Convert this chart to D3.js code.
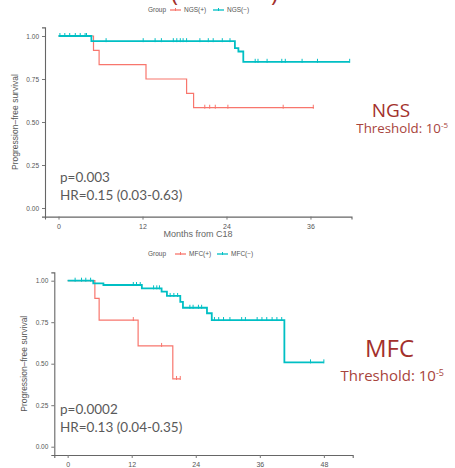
<!DOCTYPE html>
<html>
<head>
<meta charset="utf-8">
<script src="https://cdn.jsdelivr.net/npm/d3@7"></script>
<style>
  body { margin: 0; background: #fff; }
  svg { display: block; }
  .tick text { font-family: "Liberation Sans", Arial, sans-serif; fill: #555; }
</style>
</head>
<body>
<div id="chart"></div>
<script>
// NGS panel
const ngsPosTimes = [0, 5.0, 5.8, 12.5, 18.3, 19.3, 36.5];
const ngsPosSurv = [1, 0.917, 0.833, 0.75, 0.667, 0.583, 0.583];
const ngsPosCensor = [20.9, 21.6, 22.4, 24.2, 32.1, 36.4];
const ngsNegTimes = [0, 4.7, 25.2, 25.7, 26.4, 41.6];
const ngsNegSurv = [1, 0.97, 0.93, 0.91, 0.85, 0.85];
const ngsNegCensor = [0.2, 0.9, 1.6, 2.4, 3.1, 3.8, 4.0, 6.8, 12.1, 13.8, 14.7, 16.4, 16.9, 17.4, 17.8, 18.3,
  20.2, 21.4, 22.1, 23.4, 24.5, 28.1, 28.5, 29.8, 31.9, 32.4, 34.8, 37.0, 41.6];

// MFC panel
const mfcPosTimes = [0, 5.1, 5.9, 13.2, 19.7, 21.1];
const mfcPosSurv = [1, 0.894, 0.763, 0.607, 0.408, 0.408];
const mfcPosCensor = [12.3, 17.6, 20.4, 21.1];
const mfcNegTimes = [0, 4.8, 6.7, 13.9, 17.6, 18.6, 21.1, 21.6, 26.1, 27.0, 40.6, 48.0];
const mfcNegSurv = [1, 0.984, 0.974, 0.954, 0.934, 0.908, 0.873, 0.837, 0.804, 0.763, 0.508, 0.508];
const mfcNegCensor = [1.4, 2.6, 3.4, 4.3, 12.3, 12.9, 13.6, 16.1, 16.7, 17.2, 19.2, 19.9, 20.6,
  22.9, 23.5, 24.5, 25.1, 27.5, 28.3, 29.2, 30.4, 32.6, 33.3, 35.5, 36.4, 37.3, 38.3, 39.2, 40.1, 45.5, 48.0];

const yTicks = [0, 0.25, 0.5, 0.75, 1];
const ngsXTicks = [0, 12, 24, 36];
const mfcXTicks = [0, 12, 24, 36, 48];

const posColor = '#F8766D';
const negColor = '#00BFC4';
const redText = '#a3302c';

const width = 455, height = 468;
const svg = d3.select('#chart').append('svg')
  .attr('width', width).attr('height', height);

// bits of the slide title cut off at the top
svg.append('text').attr('x', 171).attr('y', 1).attr('fill', redText)
  .style('font-family', 'Open Sans').style('font-size', '24px').text('(');
svg.append('text').attr('x', 271).attr('y', 1).attr('fill', redText)
  .style('font-family', 'Open Sans').style('font-size', '24px').text(')');

function panel(cfg) {
  const x = d3.scaleLinear().domain(cfg.xDomain).range(cfg.xRange);
  const y = d3.scaleLinear().domain([-0.05, 1.05]).range(cfg.yRange);
  const g = svg.append('g');

  const xAxis = d3.axisBottom(x).tickValues(cfg.xTicks).tickSizeOuter(0).tickSize(3);
  const yAxis = d3.axisLeft(y).tickValues(yTicks).tickFormat(d3.format('.2f')).tickSizeOuter(0).tickSize(3);

  const gx = g.append('g').attr('transform', `translate(0, ${cfg.yRange[0]})`).call(xAxis);
  gx.selectAll('text').style('font-size', '7px').attr('dy', '0.85em');
  const gy = g.append('g').attr('transform', `translate(${cfg.xRange[0]}, 0)`).call(yAxis);
  gy.selectAll('text').style('font-size', '6.5px');
  g.selectAll('.domain').attr('stroke', '#666').attr('stroke-width', 1.1);
  g.selectAll('.tick line').attr('stroke', '#777');

  g.append('text')
    .attr('transform', `translate(${cfg.yTitleX}, ${(cfg.yRange[0] + cfg.yRange[1]) / 2}) rotate(-90)`)
    .attr('text-anchor', 'middle')
    .style('font-family', 'Liberation Sans').style('font-size', '8.5px').attr('fill', '#555')
    .text('Progression\u2013free survival');

  if (cfg.xTitle) {
    g.append('text').attr('x', 198).attr('y', cfg.yRange[0] + 20)
      .attr('text-anchor', 'middle')
      .style('font-family', 'Liberation Sans').style('font-size', '9px').attr('fill', '#666')
      .text(cfg.xTitle);
  }

  const line = d3.line().curve(d3.curveStepAfter)
    .x(d => x(d[0])).y(d => y(d[1]));

  cfg.series.forEach(s => {
    const pts = s.times.map((t, i) => [t, s.surv[i]]);
    g.append('path').datum(pts)
      .attr('d', line)
      .attr('fill', 'none')
      .attr('stroke', s.color)
      .attr('stroke-width', s.width);
    const level = t => s.surv[d3.bisectRight(s.times, t) - 1];
    g.selectAll(null).data(s.censor).enter()
      .append('path')
      .attr('d', t => `M${x(t)},${y(level(t)) - 3}V${y(level(t)) + 1}`)
      .attr('stroke', s.color)
      .attr('stroke-width', 1);
  });

  // legend
  const lg = g.append('g').attr('transform', `translate(0, ${cfg.legendY})`)
    .style('font-family', 'Liberation Sans').style('font-size', '6.5px');
  lg.append('text').attr('x', 148).attr('y', 2).attr('fill', '#555').text('Group');
  cfg.series.forEach((s, i) => {
    const lx = cfg.legendX[i];
    lg.append('line').attr('x1', lx).attr('x2', lx + 11).attr('y1', 0).attr('y2', 0)
      .attr('stroke', s.color).attr('stroke-width', 1.3);
    lg.append('line').attr('x1', lx + 5.5).attr('x2', lx + 5.5).attr('y1', -2).attr('y2', 1)
      .attr('stroke', s.color).attr('stroke-width', 1);
    lg.append('text').attr('x', lx + 14).attr('y', 2).attr('fill', '#555').text(s.name);
  });

  // statistics
  const st = g.append('g').style('font-family', 'Lato').style('font-size', '13.5px').attr('fill', '#5a5a5a');
  st.append('text').attr('x', 60).attr('y', cfg.statY).text(cfg.pText);
  st.append('text').attr('x', 60).attr('y', cfg.statY + 18).text(cfg.hrText);

  // method label
  g.append('text').attr('x', cfg.labelX).attr('y', cfg.labelY)
    .attr('text-anchor', 'middle')
    .style('font-family', 'Open Sans').style('font-size', cfg.labelSize + 'px')
    .attr('fill', redText).text(cfg.label);
  const th = g.append('text').attr('x', cfg.thX).attr('y', cfg.labelY + cfg.thDy)
    .attr('text-anchor', 'end')
    .style('font-family', 'Open Sans').style('font-size', cfg.thSize + 'px')
    .attr('fill', '#a8443c');
  th.append('tspan').text('Threshold: 10');
  th.append('tspan').attr('dy', -5).style('font-size', (cfg.thSize * 0.6) + 'px').text('-5');
}

panel({
  xDomain: [-1.93, 41.86], xRange: [45, 351.5],
  yRange: [216.6, 27.4], xTicks: ngsXTicks,
  yTitleX: 18, xTitle: 'Months from C18',
  legendY: 10, legendX: [170, 213],
  series: [
    { name: 'NGS(+)', times: ngsPosTimes, surv: ngsPosSurv, censor: ngsPosCensor, color: posColor, width: 1.2 },
    { name: 'NGS(\u2212)', times: ngsNegTimes, surv: ngsNegSurv, censor: ngsNegCensor, color: negColor, width: 1.8 }
  ],
  statY: 182, pText: 'p=0.003', hrText: 'HR=0.15 (0.03-0.63)',
  label: 'NGS', labelX: 391, labelY: 117, labelSize: 19,
  thX: 448, thDy: 16, thSize: 13.3
});

panel({
  xDomain: [-2.5, 53.4], xRange: [54.3, 352.7],
  yRange: [455, 272.4], xTicks: mfcXTicks,
  yTitleX: 27, xTitle: null,
  legendY: 254, legendX: [175, 217],
  series: [
    { name: 'MFC(+)', times: mfcPosTimes, surv: mfcPosSurv, censor: mfcPosCensor, color: posColor, width: 1.2 },
    { name: 'MFC(\u2212)', times: mfcNegTimes, surv: mfcNegSurv, censor: mfcNegCensor, color: negColor, width: 1.8 }
  ],
  statY: 414, pText: 'p=0.0002', hrText: 'HR=0.13 (0.04-0.35)',
  label: 'MFC', labelX: 389.5, labelY: 357, labelSize: 24,
  thX: 444, thDy: 24, thSize: 15
});
</script>
</body>
</html>
